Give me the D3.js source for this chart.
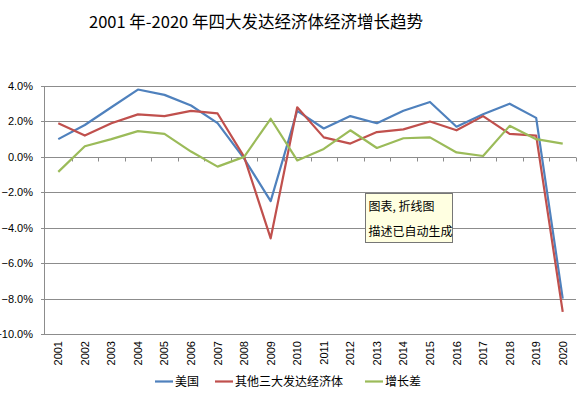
<!DOCTYPE html>
<html>
<head>
<meta charset="utf-8">
<script src="https://cdn.jsdelivr.net/npm/d3@7"></script>
<style>
  body { margin: 0; background: #fff; }
  svg { display: block; }
</style>
</head>
<body>
<svg id="chart" width="583" height="395"></svg>
<script>
// growth trend of four developed economies, 2001-2020

const years = d3.range(2001, 2021).map(String);
const usGrowth = [1.0, 1.8, 2.8, 3.8, 3.5, 2.9, 1.9, -0.1, -2.5, 2.6, 1.6, 2.3, 1.9, 2.6, 3.1, 1.7, 2.4, 3.0, 2.2, -8.0];
const otherGrowth = [1.9, 1.2, 1.9, 2.4, 2.3, 2.6, 2.45, 0.0, -4.6, 2.8, 1.1, 0.75, 1.4, 1.55, 2.0, 1.5, 2.3, 1.3, 1.2, -8.75];
const gapGrowth = [-0.85, 0.6, 1.0, 1.45, 1.3, 0.3, -0.55, 0.0, 2.15, -0.2, 0.45, 1.5, 0.5, 1.05, 1.1, 0.25, 0.05, 1.75, 1.0, 0.75];
const yTicks = [4, 2, 0, -2, -4, -6, -8, -10];
const seriesNames = ['美国', '其他三大发达经济体', '增长差'];
const seriesColors = ['#4f81bd', '#c0504d', '#9bbb59'];

const svg = d3.select('#chart');
const cjk = '"Noto Sans CJK SC", sans-serif';
const latin = '"Liberation Sans", "Noto Sans CJK SC", sans-serif';

const x = d3.scaleBand().domain(years).range([45, 576]).padding(0);
const y = d3.scaleLinear().domain([-10, 4]).range([334, 86]);
const cx = d => x(d) + x.bandwidth() / 2;

// title
svg.append('text')
   .attr('x', 256)
   .attr('y', 28)
   .attr('text-anchor', 'middle')
   .attr('font-family', cjk)
   .attr('font-size', '16.5px')
   .attr('fill', '#000')
   .text('2001 年-2020 年四大发达经济体经济增长趋势');

// horizontal grid
svg.append('g')
   .selectAll('line')
   .data(yTicks)
   .join('line')
   .attr('x1', 41)
   .attr('x2', 576)
   .attr('y1', d => Math.round(y(d)) + 0.5)
   .attr('y2', d => Math.round(y(d)) + 0.5)
   .attr('stroke', '#8c8c8c')
   .attr('stroke-width', 1);

// y axis line
svg.append('line')
   .attr('x1', 44.5).attr('x2', 44.5)
   .attr('y1', y(4)).attr('y2', y(-10))
   .attr('stroke', '#8c8c8c');

// y labels
svg.append('g')
   .selectAll('text')
   .data(yTicks)
   .join('text')
   .attr('x', 33)
   .attr('y', d => y(d) + 4)
   .attr('text-anchor', 'end')
   .attr('font-family', latin)
   .attr('font-size', '11px')
   .attr('fill', '#000')
   .text(d => d3.format('.1f')(d) + '%');

// category ticks on the zero line
const zeroY = Math.round(y(0)) + 0.5;
svg.append('g')
   .selectAll('line')
   .data(years.slice(1).concat(['end']))
   .join('line')
   .attr('x1', (d, i) => Math.round(x.range()[0] + x.bandwidth() * (i + 1)) + 0.5)
   .attr('x2', (d, i) => Math.round(x.range()[0] + x.bandwidth() * (i + 1)) + 0.5)
   .attr('y1', zeroY)
   .attr('y2', zeroY + 4)
   .attr('stroke', '#8c8c8c');

// x labels
svg.append('g')
   .selectAll('text')
   .data(years)
   .join('text')
   .attr('transform', d => `translate(${cx(d) + 4},341) rotate(-90)`)
   .attr('text-anchor', 'end')
   .attr('font-family', latin)
   .attr('font-size', '11px')
   .attr('fill', '#000')
   .text(d => d);

// lines
const line = d3.line()
   .x((d, i) => cx(years[i]))
   .y(d => y(d));

[usGrowth, otherGrowth, gapGrowth].forEach((vals, k) => {
  svg.append('path')
     .attr('d', line(vals))
     .attr('fill', 'none')
     .attr('stroke', seriesColors[k])
     .attr('stroke-width', 2.2)
     .attr('stroke-linejoin', 'round');
});

// legend
const legendX = [155, 215, 365];
const legend = svg.append('g');
seriesNames.forEach((name, k) => {
  legend.append('line')
     .attr('x1', legendX[k]).attr('x2', legendX[k] + 18)
     .attr('y1', 381.5).attr('y2', 381.5)
     .attr('stroke', seriesColors[k])
     .attr('stroke-width', 2.2);
  legend.append('text')
     .attr('x', legendX[k] + 20)
     .attr('y', 386)
     .attr('font-family', cjk)
     .attr('font-size', '12px')
     .attr('fill', '#000')
     .text(name);
});

// auto-generated alt text box
const tip = svg.append('g').attr('transform', 'translate(365.5,193.5)');
tip.append('rect')
   .attr('width', 87)
   .attr('height', 49)
   .attr('fill', '#ffffe1')
   .attr('stroke', '#767676');
tip.append('text')
   .attr('x', 3).attr('y', 17)
   .attr('font-family', cjk)
   .attr('font-size', '12px')
   .attr('fill', '#000')
   .text('图表, 折线图');
tip.append('text')
   .attr('x', 3).attr('y', 42)
   .attr('font-family', cjk)
   .attr('font-size', '12px')
   .attr('fill', '#000')
   .text('描述已自动生成');
</script>
</body>
</html>
